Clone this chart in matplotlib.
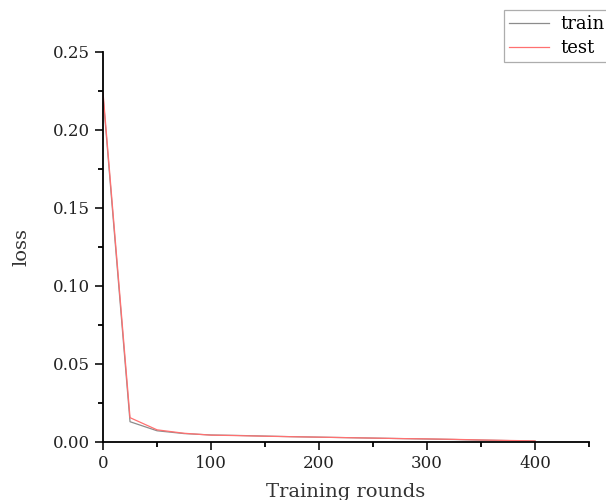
import matplotlib
matplotlib.use("Agg")
import matplotlib.pyplot as plt
from matplotlib.ticker import MultipleLocator, FormatStrFormatter

rounds = [0, 25, 50, 75, 100, 125, 150, 175, 200, 225, 250, 275, 300, 325, 350, 375, 400]
train_loss = [0.222, 0.0130, 0.0072, 0.0054, 0.0045, 0.0042, 0.0038, 0.0034, 0.0031, 0.0028, 0.0025, 0.0022, 0.0019, 0.0016, 0.0012, 0.0009, 0.0006]
test_loss = [0.224, 0.0156, 0.0078, 0.0056, 0.0044, 0.0041, 0.0037, 0.0034, 0.0031, 0.0028, 0.0025, 0.0022, 0.0020, 0.0017, 0.0013, 0.0010, 0.0007]

plt.rcParams['font.family'] = ['DejaVu Serif']
fig = plt.figure(figsize=(6.06, 5.0), dpi=100)
ax = fig.add_axes([0.170, 0.116, 0.802, 0.780])

l1, = ax.plot(rounds, train_loss, color='#8c8c8c', lw=0.9, label='train')
l2, = ax.plot(rounds, test_loss, color='#ff7070', lw=0.9, label='test')

ax.set_xlim(0, 450)
ax.set_ylim(0, 0.25)
ax.xaxis.set_major_locator(MultipleLocator(100))
ax.xaxis.set_minor_locator(MultipleLocator(50))
ax.yaxis.set_major_locator(MultipleLocator(0.05))
ax.yaxis.set_minor_locator(MultipleLocator(0.025))
ax.yaxis.set_major_formatter(FormatStrFormatter('%.2f'))
ax.spines['top'].set_visible(False)
ax.spines['right'].set_visible(False)
for s in ['left', 'bottom']:
    ax.spines[s].set_linewidth(1.3)
ax.tick_params(which='major', direction='out', length=6, width=1.3, labelsize=12, colors='#222222')
ax.tick_params(which='minor', direction='out', length=3.5, width=1.3)
ax.set_xlabel('Training rounds', fontsize=14, color='#333333', labelpad=8)
ax.set_ylabel('loss', fontsize=14, color='#333333')
ax.yaxis.set_label_coords(-0.15, 0.5)

leg = fig.legend(handles=[l1, l2], loc='upper left', bbox_to_anchor=(504/606, 1 - 10/500),
                 borderaxespad=0, fontsize=13, frameon=True, fancybox=False, edgecolor='#999999',
                 handlelength=2.2, borderpad=0.3, labelspacing=0.3, handletextpad=0.6)
leg.get_frame().set_linewidth(0.9)

fig.savefig('out.png', dpi=100)
